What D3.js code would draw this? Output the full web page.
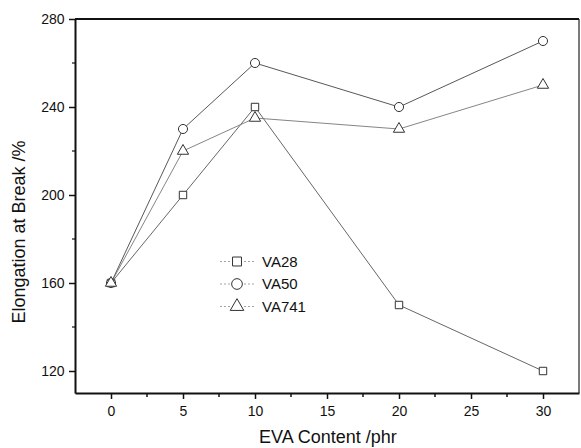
<!DOCTYPE html>
<html>
<head>
<meta charset="utf-8">
<script src="https://cdn.jsdelivr.net/npm/d3@7"></script>
<style>
  body { margin: 0; background: #fff; }
  svg { font-family: "Liberation Sans", Arial, sans-serif; }
</style>
</head>
<body>
<div id="chart"></div>
<script>
// data
const evaContent = [0, 5, 10, 20, 30];
const va28 = [160, 200, 240, 150, 120];
const va50 = [160, 230, 260, 240, 270];
const va741 = [160, 220, 235, 230, 250];
const seriesNames = ['VA28', 'VA50', 'VA741'];
const xTicks = [0, 5, 10, 15, 20, 25, 30];
const yTicks = [120, 160, 200, 240, 280];

const width = 581, height = 448;
const margin = { top: 19, right: 2, bottom: 55, left: 75 };

const svg = d3.select('#chart').append('svg')
    .attr('width', width)
    .attr('height', height);

const x = d3.scaleLinear()
    .domain([-2.5, 32.5])
    .range([margin.left, width - margin.right]);

const y = d3.scaleLinear()
    .domain([110, 280])
    .range([height - margin.bottom, margin.top]);

const series = [
    { name: seriesNames[0], values: va28, symbol: d3.symbolSquare, size: 55, color: '#555' },
    { name: seriesNames[1], values: va50, symbol: d3.symbolCircle, size: 65, color: '#444' },
    { name: seriesNames[2], values: va741, symbol: d3.symbolTriangle, size: 55, color: '#777' }
];

// frame (top + right)
svg.append('line')
    .attr('x1', x(-2.5)).attr('x2', x(32.5))
    .attr('y1', y(280)).attr('y2', y(280))
    .attr('stroke', '#111').attr('stroke-width', 2);
svg.append('line')
    .attr('x1', x(32.5)).attr('x2', x(32.5))
    .attr('y1', y(280)).attr('y2', y(110))
    .attr('stroke', '#222').attr('stroke-width', 1.2);

// minor ticks
const xMinor = d3.range(-2.5, 33, 2.5).filter(v => !xTicks.includes(v) && v > -2.5 && v < 32.5);
const yMinor = d3.range(140, 280, 40);

svg.append('g')
    .selectAll('line')
    .data(xMinor)
    .join('line')
    .attr('x1', d => x(d)).attr('x2', d => x(d))
    .attr('y1', y(110)).attr('y2', y(110) + 4)
    .attr('stroke', '#111').attr('stroke-width', 1.5);

svg.append('g')
    .selectAll('line')
    .data(yMinor)
    .join('line')
    .attr('x1', x(-2.5) - 3).attr('x2', x(-2.5))
    .attr('y1', d => y(d)).attr('y2', d => y(d))
    .attr('stroke', '#111').attr('stroke-width', 1.2);

// axes
const xAxis = d3.axisBottom(x).tickValues(xTicks).tickSize(6).tickSizeOuter(0);
const yAxis = d3.axisLeft(y).tickValues(yTicks).tickSize(6).tickSizeOuter(0);

const gx = svg.append('g')
    .attr('transform', `translate(0, ${y(110)})`)
    .call(xAxis);
const gy = svg.append('g')
    .attr('transform', `translate(${x(-2.5)}, 0)`)
    .call(yAxis);

[gx, gy].forEach(g => {
    g.select('.domain').attr('stroke', '#111').attr('stroke-width', 2);
    g.selectAll('.tick line').attr('stroke', '#111').attr('stroke-width', 1.5);
    g.selectAll('.tick text').attr('font-size', '14px').attr('fill', '#111')
        .attr('font-family', '"Liberation Sans", Arial, sans-serif');
});
gx.selectAll('.tick text').attr('dy', '1.0em');
gy.selectAll('.tick text').attr('dx', '-0.1em');

// axis titles
svg.append('text')
    .attr('x', 328)
    .attr('y', 443)
    .attr('text-anchor', 'middle')
    .attr('font-size', '18px')
    .attr('fill', '#111')
    .text('EVA Content /phr');

svg.append('text')
    .attr('transform', 'translate(25, 232) rotate(-90)')
    .attr('text-anchor', 'middle')
    .attr('font-size', '18px')
    .attr('fill', '#111')
    .text('Elongation at Break /%');

// lines and markers
const line = d3.line()
    .x((d, i) => x(evaContent[i]))
    .y(d => y(d));

series.forEach(s => {
    svg.append('path')
        .datum(s.values)
        .attr('d', line)
        .attr('fill', 'none')
        .attr('stroke', s.color)
        .attr('stroke-width', 0.9);

    svg.append('g')
        .selectAll('path')
        .data(s.values)
        .join('path')
        .attr('transform', (d, i) => `translate(${x(evaContent[i])}, ${y(d)})`)
        .attr('d', d3.symbol().type(s.symbol).size(s.size))
        .attr('fill', '#fff')
        .attr('stroke', '#333')
        .attr('stroke-width', 1);
});

// legend
const legend = svg.append('g').attr('transform', 'translate(237, 261.5)');
series.forEach((s, i) => {
    const row = legend.append('g').attr('transform', `translate(0, ${i * 22.5})`);
    row.append('line')
        .attr('x1', -17).attr('x2', 17)
        .attr('stroke', '#999')
        .attr('stroke-width', 0.9)
        .attr('stroke-dasharray', '2,2');
    row.append('path')
        .attr('d', d3.symbol().type(s.symbol).size(s.size + 25))
        .attr('fill', '#fff')
        .attr('stroke', '#333')
        .attr('stroke-width', 1);
    row.append('text')
        .attr('x', 25)
        .attr('dy', '0.36em')
        .attr('font-size', '15px')
        .attr('fill', '#111')
        .text(s.name);
});
</script>
</body>
</html>
